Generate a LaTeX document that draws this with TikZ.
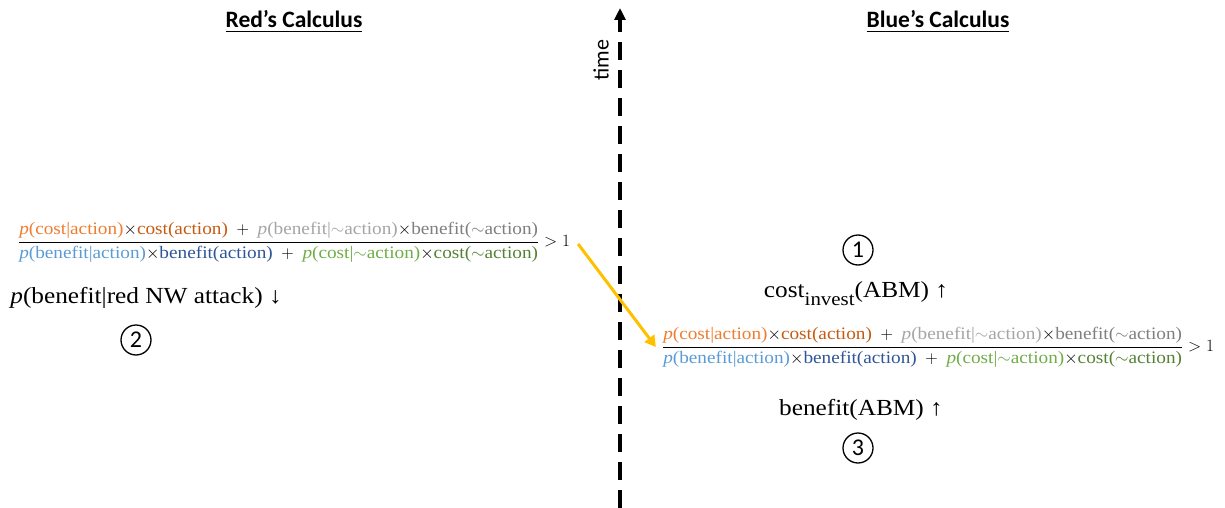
\documentclass[tikz,border=0pt]{standalone}
\usepackage{amsmath}
\usepackage{fontspec}
\usepackage{xcolor}
\setmainfont[FakeStretch=1.1]{Liberation Serif}
\newfontfamily\calibri{Carlito}
\usetikzlibrary{arrows.meta,positioning}

\definecolor{orA}{HTML}{ED7D31}
\definecolor{orB}{HTML}{C55A11}
\definecolor{grA}{HTML}{A5A5A5}
\definecolor{grB}{HTML}{7F7F7F}
\definecolor{blA}{HTML}{5B9BD5}
\definecolor{blB}{HTML}{2F5597}
\definecolor{gnA}{HTML}{70AD47}
\definecolor{gnB}{HTML}{548235}
\definecolor{ygold}{HTML}{FFC000}

% the cost / benefit ratio, used on both sides
\newcommand{\calcratio}{%
  $\displaystyle\frac{%
    \text{\color{orA}\textit{p}(cost|action)}\text{$\times$}\text{\color{orB}cost(action)}
    \;+\;
    \text{\color{grA}\textit{p}(benefit|$\sim$action)}\text{$\times$}\text{\color{grB}benefit($\sim$action)}}{%
    \text{\color{blA}\textit{p}(benefit|action)}\text{$\times$}\text{\color{blB}benefit(action)}
    \;+\;
    \text{\color{gnA}\textit{p}(cost|$\sim$action)}\text{$\times$}\text{\color{gnB}cost($\sim$action)}}
  > 1$}

\begin{document}
\begin{tikzpicture}[
    x=1pt, y=-1pt,
    title/.style={font=\calibri\bfseries\fontsize{23.5}{28}\selectfont},
    ratio/.style={font=\fontsize{17.5}{20}\selectfont, inner sep=2pt},
    effect/.style={font=\fontsize{23}{27}\selectfont},
    marker/.style={circle, draw, line width=1.3pt, minimum size=30pt, inner sep=0pt,
      font=\calibri\fontsize{24}{26}\selectfont},
    >={Triangle[length=12pt,width=11pt]}
  ]
  \useasboundingbox (0,0) rectangle (1225,508);

  \node[title] (redtitle) at (294,22) {\underline{Red’s Calculus}};
  \node[title] (bluetitle) at (938,22) {\underline{Blue’s Calculus}};

  % time axis
  \coordinate (tbot) at (620,508);
  \coordinate (ttop) at (620,8);
  \draw[line width=3.5pt, dash pattern=on 18pt off 10pt, ->] (tbot) -- (ttop);
  \node[rotate=90, font=\calibri\fontsize{22}{26}\selectfont] (timelbl) at (601,60) {time};

  % red side
  \node[ratio] (redratio) at (294,242) {\calcratio};
  \node[effect] (redeffect) at (146,298) {\textit{p}(benefit|red NW attack) ↓};
  \node[marker] (two) at (136,340) {2};

  % blue side
  \node[marker] (one) at (858,250) {1};
  \node[effect] (costeffect) at (856,294)
    {cost\raisebox{-0.35em}{\fontsize{19}{22}\selectfont invest}(ABM) ↑};
  \node[ratio] (blueratio) at (938,347) {\calcratio};
  \node[effect] (benefiteffect) at (861,410) {benefit(ABM) ↑};
  \node[marker] (three) at (858,448) {3};

  \draw[ygold, line width=3pt, -{Triangle[length=11pt,width=12pt]}]
    ([xshift=6pt,yshift=-2pt]redratio.east) -- ([xshift=-4pt]blueratio.west);
\end{tikzpicture}
\end{document}
